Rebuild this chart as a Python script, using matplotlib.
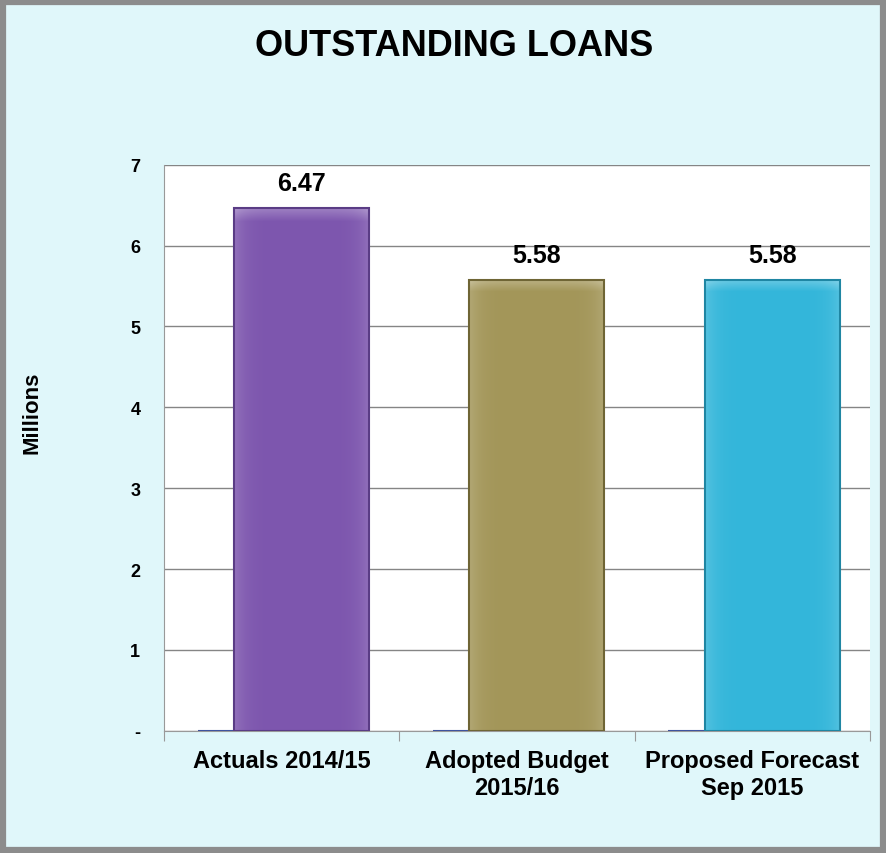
import numpy as np
import matplotlib.pyplot as plt
from matplotlib.patches import Rectangle
from matplotlib.colors import to_rgb

categories = ['Actuals 2014/15', 'Adopted Budget\n2015/16', 'Proposed Forecast\nSep 2015']
values = [6.47, 5.58, 5.58]
zero_series = [0, 0, 0]
bar_colors = ['#7d56ae', '#a39659', '#33b6da']
edge_colors = ['#5a3c85', '#6f6535', '#1f86a3']
yticks = [0, 1, 2, 3, 4, 5, 6, 7]
ytick_labels = ['-', '1', '2', '3', '4', '5', '6', '7']

plt.rcParams['font.family'] = ['Liberation Sans', 'DejaVu Sans']

fig = plt.figure(figsize=(8.86, 8.54), dpi=100, facecolor='#e0f7fa')
# grey frame round the chart
fig.patches.append(Rectangle((0.003, 0.003), 0.994, 0.994, transform=fig.transFigure,
                             fill=False, edgecolor='#8c8c8c', linewidth=4.5))

ax = fig.add_axes([0.185, 0.143, 0.797, 0.663])
ax.set_facecolor('white')

x = np.arange(len(categories))
w = 0.574
# empty second series, only its baseline shows beside each bar
ax.bar(x - 0.07, zero_series, width=w, edgecolor='#3a4fa0', linewidth=1.5, zorder=2)
bars = ax.bar(x + 0.084, values, width=w, color=bar_colors, linewidth=0, zorder=3)

# soft bevel shading inside each bar
prof = np.linspace(-1, 1, 64)
side = 0.16 * np.abs(prof) ** 6
for b, c in zip(bars, bar_colors):
    base = np.array(to_rgb(c))
    yy = np.linspace(0, 1, 200)[:, None]
    top = 0.25 * np.clip((yy - 0.975) / 0.025, 0, 1)
    f = np.clip(side[None, :] + top, 0, 1)[..., None]
    img = base * (1 - f) + f
    x0, h = b.get_x(), b.get_height()
    im = ax.imshow(img, extent=(x0, x0 + b.get_width(), 0, h), origin='lower',
                   aspect='auto', zorder=3.5, interpolation='bilinear')
    im.set_clip_path(b)

# outlines on top of the shading
ax.bar(x + 0.084, values, width=w, fill=False, edgecolor=edge_colors,
       linewidth=1.5, zorder=4)

for b, v in zip(bars, values):
    ax.annotate(f'{v:.2f}', (b.get_x() + b.get_width() / 2, v), xytext=(0, 9),
                textcoords='offset points', ha='center', va='bottom',
                fontsize=18, fontweight='bold', zorder=5)

ax.set_xlim(-0.5, 2.5)
ax.set_ylim(0, 7)
ax.set_yticks(yticks)
ax.set_yticklabels(ytick_labels, fontsize=13, fontweight='bold')
ax.yaxis.grid(True, color='#858585', linewidth=1)
ax.set_axisbelow(True)
ax.tick_params(axis='y', length=0, pad=17)

# boundaries between categories get the tick marks, labels sit in the middle
ax.set_xticks([-0.5, 0.5, 1.5, 2.5])
ax.set_xticklabels([])
ax.set_xticks(x, minor=True)
ax.set_xticklabels(categories, minor=True, fontsize=17, fontweight='bold',
                   linespacing=1.22)
ax.tick_params(axis='x', which='major', length=7, color='#999999')
ax.tick_params(axis='x', which='minor', length=0, pad=13)

for s in ['top', 'right']:
    ax.spines[s].set_visible(False)
ax.spines['left'].set_color('#999999')
ax.spines['bottom'].set_color('#999999')

fig.text(32 / 886, 1 - 413 / 854, 'Millions', rotation=90, ha='center', va='center',
         fontsize=16, fontweight='bold')

fig.text(454 / 886, 1 - 46 / 854, 'OUTSTANDING LOANS', ha='center', va='center',
         fontsize=26, fontweight='bold')

fig.savefig('out.png', dpi=100, facecolor=fig.get_facecolor())
